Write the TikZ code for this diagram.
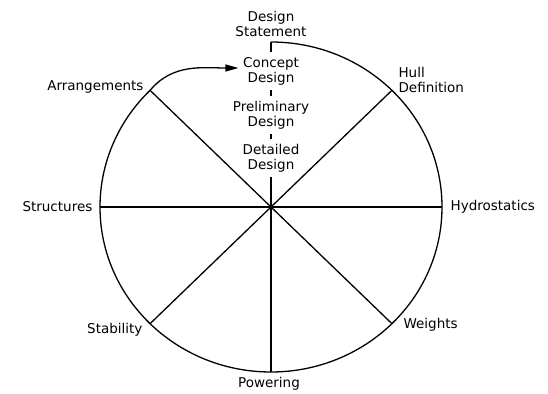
\documentclass[tikz,border=0pt]{standalone}
\usepackage{fontspec}
\setmainfont{DejaVu Sans}
\usetikzlibrary{arrows.meta, positioning}

\begin{document}
\begin{tikzpicture}[x=1pt, y=1pt, line width=1.3pt,
    lbl/.style={font=\fontsize{13.5}{15}\selectfont, inner sep=2pt},
    stage/.style={lbl, align=center, inner sep=4pt}]
    \useasboundingbox (-271,-186) rectangle (277,207);
    % Hub and rim points
    \coordinate (hub) at (0,0);
    \foreach \a/\n in {0/hydro, 45/hull, 90/top, 135/arrange, 180/struct, 225/stab, 270/power, 315/weight}
        \coordinate (\n) at ({171*cos(\a)}, {165*sin(\a)});

    % Rim, open between Arrangements and the top
    \draw (top) arc[start angle=90, end angle=-225, x radius=171, y radius=165];

    % Spokes
    \foreach \n in {hydro, hull, arrange, struct, stab, power, weight}
        \draw (hub) -- (\n);

    % Design stages up the spine
    \node[stage] (detailed) at (0,49) {Detailed\\Design};
    \node[stage] (prelim) at (0,92) {Preliminary\\Design};
    \node[stage] (concept) at (0,136) {Concept\\Design};
    \node[stage] (statement) at (0,183) {Design\\Statement};
    \draw (hub) -- (detailed);
    \draw (detailed) -- (prelim);
    \draw (prelim) -- (concept);
    \draw (concept) -- (top);

    % Loop back into concept design
    \draw[-{Triangle[length=13pt,width=7pt]}] (arrange) to[out=50, in=180] ([yshift=3pt]concept.west);

    % Rim labels
    \node[lbl, anchor=east] (arrangements) at ([shift={(-4,3)}]arrange) {Arrangements};
    \node[lbl, anchor=west, align=left] (hulldef) at ([shift={(4,10)}]hull) {Hull\\Definition};
    \node[lbl, anchor=west] (hydrostatics) at ([shift={(6,0)}]hydro) {Hydrostatics};
    \node[lbl, anchor=west] (weights) at ([shift={(9,-1)}]weight) {Weights};
    \node[lbl, anchor=north] (powering) at ([shift={(-2,-3)}]power) {Powering};
    \node[lbl, anchor=east] (stability) at ([shift={(-5,-6)}]stab) {Stability};
    \node[lbl, anchor=east] (structures) at ([shift={(-5,0)}]struct) {Structures};
\end{tikzpicture}
\end{document}
